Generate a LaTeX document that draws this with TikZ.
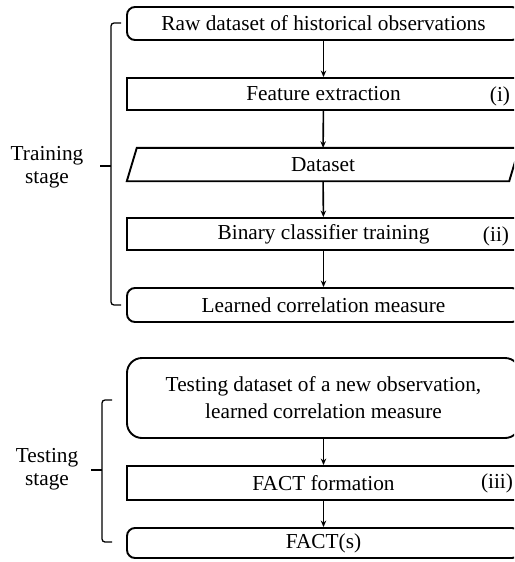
\documentclass[tikz,border=0pt]{standalone}
\usepackage{fontspec}
\setmainfont{Liberation Serif}
\usetikzlibrary{arrows.meta,calc}
\begin{document}
\begin{tikzpicture}[x=1pt,y=-1pt,
  every node/.style={font=\fontsize{21.3}{25}\selectfont, inner sep=0pt},
  roundbox/.style={draw, line width=1.9pt, rounded corners=8pt, minimum width=393pt},
  stepbox/.style={draw, line width=1.9pt, minimum width=393pt},
  flow/.style={-{Stealth[length=6.5pt,width=5.5pt]}, line width=1.6pt},
  brace/.style={line width=1.3pt, rounded corners=3pt},
  tag/.style={anchor=center}]
\useasboundingbox (0,0) rectangle (514,562);
\clip (0,0) rectangle (514,562);

% training stage
\node[roundbox, minimum height=33pt] (raw) at (323.5,23.5) {Raw dataset of historical observations};
\node[stepbox, minimum height=32pt] (feat) at (323.5,94) {\raisebox{-1.5pt}{Feature extraction}};
\node[tag] (ti) at (500,96) {(i)};
\node[minimum width=392pt, minimum height=33pt] (ds) at (323,164.5) {Dataset};
\draw[line width=1.9pt, line join=miter]
  ($(ds.north west)+(10,0)$) -- (ds.north east)
  -- ($(ds.south east)+(-10,0)$) -- (ds.south west) -- cycle;
\node[stepbox, minimum height=32pt] (bin) at (323.5,234) {\raisebox{-1.5pt}{Binary classifier training}};
\node[tag] (tii) at (496,236) {(ii)};
\node[roundbox, minimum height=34pt] (learn) at (323.5,305) {Learned correlation measure};

\draw[flow] (raw) -- (feat);
\draw[flow] (feat) -- (ds);
\draw[flow] (ds) -- (bin);
\draw[flow] (bin) -- (learn);

% testing stage
\node[roundbox, rounded corners=15pt, minimum height=80pt, align=center,
      font=\fontsize{21.3}{27}\selectfont] (test) at (323.5,398)
  {Testing dataset of a new observation,\\learned correlation measure};
\node[stepbox, minimum height=34pt] (fact) at (323.5,483) {FACT formation};
\node[tag] (tiii) at (497,483) {(iii)};
\node[roundbox, minimum height=30pt] (facts) at (323.5,543) {FACT(s)};

\draw[flow] (test) -- (fact);
\draw[flow] (fact) -- (facts);

% stage brackets
\coordinate (trtop) at (121,23);
\coordinate (trbot) at (121,305);
\coordinate (trtip) at (100,166);
\draw[brace] (trtop) -- (111,23) -- (111,305) -- (trbot);
\draw[line width=1.3pt] (trtip) -- (111,166);
\node[align=center, font=\fontsize{21.3}{23}\selectfont] (trlbl) at (47,167) {Training\\stage};

\coordinate (tetop) at (112,400);
\coordinate (tebot) at (112,542);
\coordinate (tetip) at (91,470);
\draw[brace] (tetop) -- (102,400) -- (102,542) -- (tebot);
\draw[line width=1.3pt] (tetip) -- (102,470);
\node[align=center, font=\fontsize{21.3}{23}\selectfont] (telbl) at (47,469) {Testing\\stage};
\end{tikzpicture}
\end{document}
